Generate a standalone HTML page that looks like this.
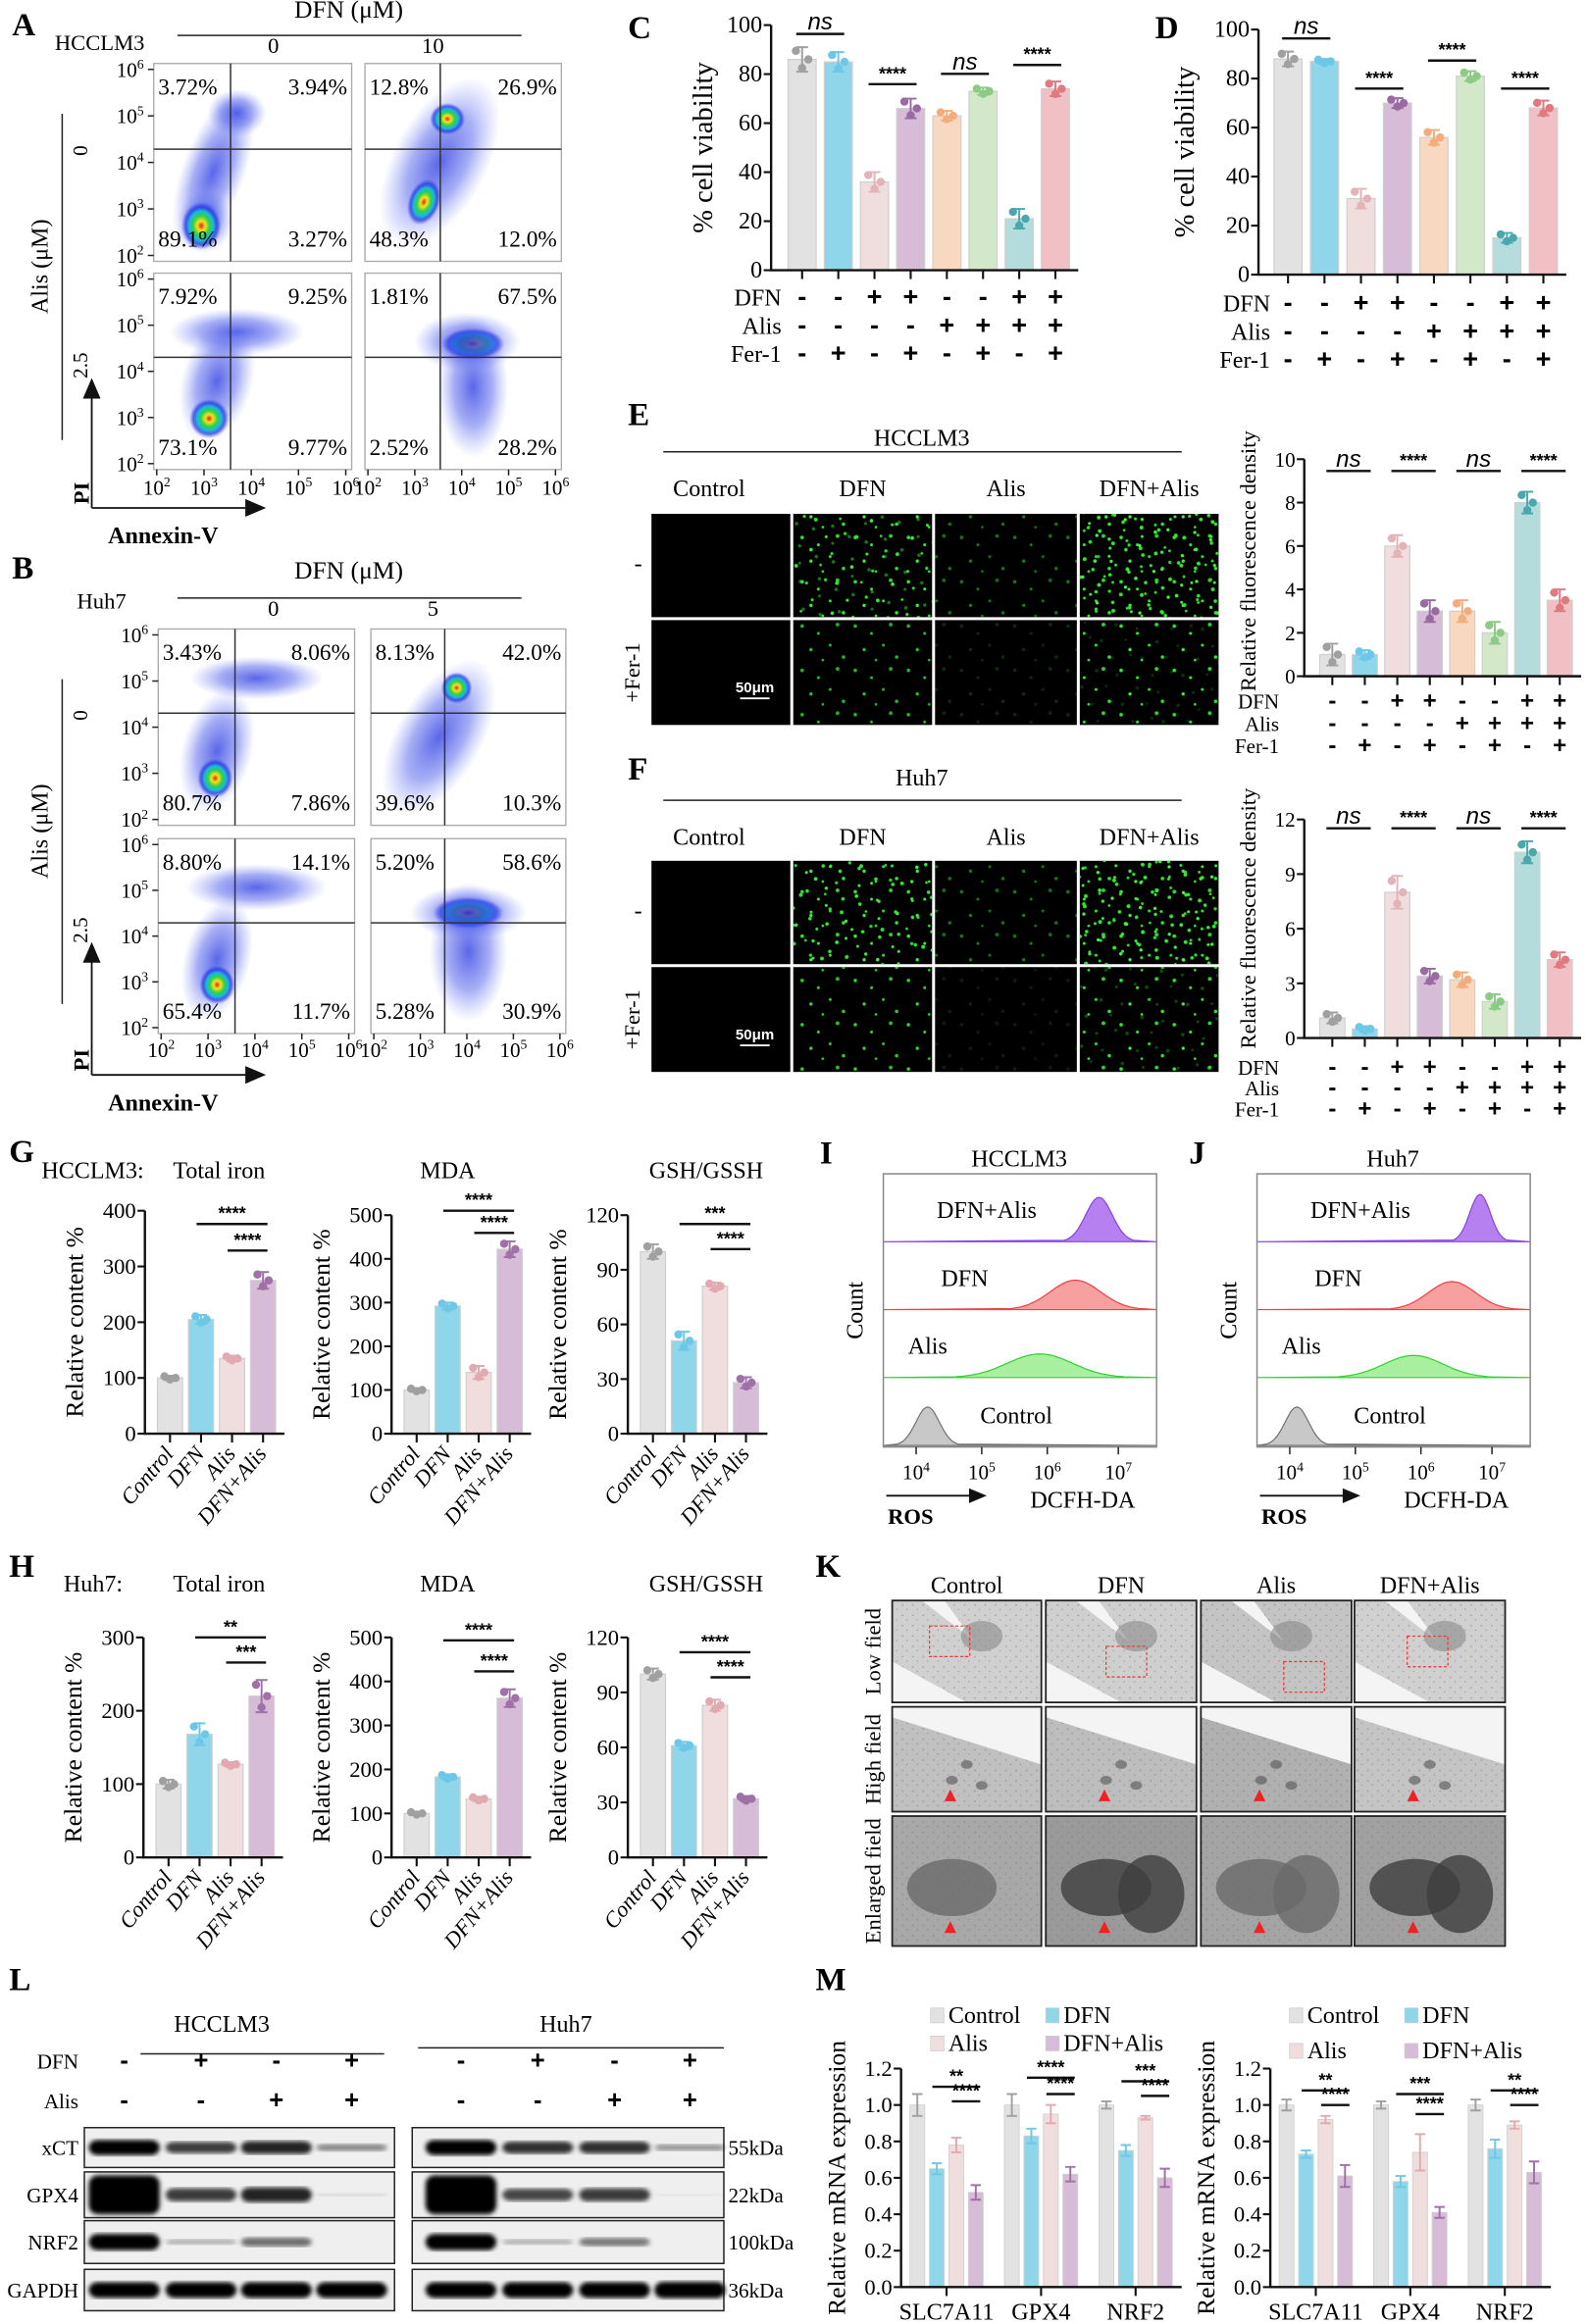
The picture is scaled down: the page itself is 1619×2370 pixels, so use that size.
<!DOCTYPE html>
<html><head><meta charset="utf-8"><title>Figure</title>
<style>
html,body{margin:0;padding:0;background:#fff;}
svg{display:block;font-family:"Liberation Serif",serif;}
</style></head>
<body>
<svg id="fig" xmlns="http://www.w3.org/2000/svg" width="1619" height="2370" viewBox="0 0 1075 1574">
<defs>
<radialGradient id="hot"><stop offset="0" stop-color="#e8201a"/><stop offset="0.2" stop-color="#f7e21a"/><stop offset="0.42" stop-color="#2fd14a"/><stop offset="0.62" stop-color="#1ab8e0"/><stop offset="0.8" stop-color="#1f2de0" stop-opacity="0.7"/><stop offset="1" stop-color="#2a3cf0" stop-opacity="0"/></radialGradient>
<radialGradient id="haze"><stop offset="0" stop-color="#2233e0" stop-opacity="0.75"/><stop offset="0.55" stop-color="#3a4ce8" stop-opacity="0.45"/><stop offset="1" stop-color="#6a7af5" stop-opacity="0"/></radialGradient>
<pattern id="gp0" width="36" height="30" patternUnits="userSpaceOnUse"><circle cx="3" cy="4" r="1.2" fill="#2ee82e"/><circle cx="14" cy="9" r="1" fill="#36f036"/><circle cx="27" cy="3" r="1.3" fill="#2bd82b"/><circle cx="9" cy="20" r="1.1" fill="#3ef03e"/><circle cx="22" cy="17" r="1" fill="#2ee82e"/><circle cx="31" cy="25" r="1.2" fill="#33e033"/><circle cx="17" cy="27" r="0.9" fill="#2ee82e"/></pattern>
<pattern id="gp1" width="30" height="34" patternUnits="userSpaceOnUse" patternTransform="translate(11,7) rotate(23)"><circle cx="3" cy="4" r="1.3" fill="#2ee82e"/><circle cx="14" cy="12" r="1" fill="#36f036"/><circle cx="25" cy="5" r="1.1" fill="#2bd82b"/><circle cx="8" cy="24" r="1.2" fill="#3ef03e"/><circle cx="22" cy="21" r="1" fill="#2ee82e"/><circle cx="18" cy="31" r="0.9" fill="#2ee82e"/></pattern>
<pattern id="gp2" width="26" height="26" patternUnits="userSpaceOnUse" patternTransform="translate(5,13) rotate(-31)"><circle cx="4" cy="5" r="1.2" fill="#2ee82e"/><circle cx="16" cy="10" r="1.1" fill="#36f036"/><circle cx="10" cy="20" r="1" fill="#3ef03e"/><circle cx="22" cy="22" r="1.2" fill="#2ee82e"/></pattern>
<pattern id="gp3" width="20" height="22" patternUnits="userSpaceOnUse" patternTransform="translate(3,2) rotate(61)"><circle cx="4" cy="5" r="1.3" fill="#2ee82e"/><circle cx="14" cy="12" r="1.1" fill="#46f846"/><circle cx="7" cy="18" r="1" fill="#2bd82b"/></pattern>
<pattern id="tex" width="7" height="7" patternUnits="userSpaceOnUse"><circle cx="2" cy="2" r="0.6" fill="#777" opacity="0.5"/><circle cx="5" cy="5" r="0.5" fill="#555" opacity="0.4"/></pattern>
<filter id="blur1"><feGaussianBlur stdDeviation="1.6"/></filter>
</defs>
</svg>
<script>
// ---------------- DATA ----------------
const viabC = [86, 85, 36, 66, 63, 73, 21, 74];
const viabCErr = [5, 4, 4, 4, 2, 1.5, 4, 3];
const viabD = [88, 87, 31, 70, 56, 81, 15, 68];
const viabDErr = [3, 1, 4, 2, 3, 2, 2, 3];
const fluoE = [1, 1, 6, 3, 3, 2, 8, 3.5];
const fluoEErr = [0.5, 0.2, 0.5, 0.5, 0.5, 0.5, 0.5, 0.5];
const fluoF = [1.1, 0.5, 8, 3.4, 3.2, 2, 10.2, 4.3];
const fluoFErr = [0.3, 0.15, 0.9, 0.4, 0.4, 0.4, 0.6, 0.4];
const tick100 = [0,20,40,60,80,100];
const tickE = [0,2,4,6,8,10];
const tickF = [0,3,6,9,12];
const rowDFN  = ["-","-","+","+","-","-","+","+"];
const rowAlis = ["-","-","-","-","+","+","+","+"];
const rowFer  = ["-","+","-","+","-","+","-","+"];
const groups4 = ["Control","DFN","Alis","DFN+Alis"];
const ironG = [100, 205, 135, 275];  const ironGErr=[4,8,5,15];
const mdaG  = [100, 292, 140, 422];  const mdaGErr=[4,8,15,18];
const gshG  = [100, 51, 81, 28];     const gshGErr=[4,5,2,3];
const ironH = [100, 168, 127, 220];  const ironHErr=[6,15,3,22];
const mdaH  = [100, 183, 133, 362];  const mdaHErr=[4,6,5,20];
const gshH  = [100, 61, 83, 32];     const gshHErr=[3,2,3,1.5];
const ticksIron4 = [0,100,200,300,400];
const ticksIron3 = [0,100,200,300];
const ticksMDA = [0,100,200,300,400,500];
const ticksGSH = [0,30,60,90,120];
const genes = ["SLC7A11","GPX4","NRF2"];
const m1Control=[1.0,1.0,1.0], m1DFN=[0.65,0.83,0.75], m1Alis=[0.78,0.95,0.93], m1Both=[0.52,0.62,0.60];
const m1Err=[[0.06,0.03,0.04,0.04],[0.06,0.04,0.05,0.04],[0.02,0.03,0.01,0.05]];
const m2Control=[1.0,1.0,1.0], m2DFN=[0.73,0.58,0.76], m2Alis=[0.92,0.74,0.89], m2Both=[0.61,0.41,0.63];
const m2Err=[[0.03,0.02,0.02,0.06],[0.02,0.03,0.1,0.03],[0.03,0.05,0.02,0.06]];
const ticksM = [0,0.2,0.4,0.6,0.8,1.0,1.2];
const blotL = {xCT:[1.0,0.75,0.85,0.45], GPX4:[1.3,0.75,0.85,0.15], NRF2:[1.0,0.3,0.55,0.02], GAPDH:[1,1,1,1]};
const blotR = {xCT:[1.0,0.8,0.8,0.4], GPX4:[1.3,0.7,0.75,0.1], NRF2:[1.0,0.3,0.5,0.02], GAPDH:[1,1,1,1.05]};
const kda = ["55kDa","22kDa","100kDa","36kDa"];

// ---------------- helpers ----------------
const NS='http://www.w3.org/2000/svg';
const svg=document.getElementById('fig');
function mk(tag,attrs,parent){const e=document.createElementNS(NS,tag);for(const k in attrs)e.setAttribute(k,attrs[k]);(parent||svg).appendChild(e);return e;}
function txt(x,y,s,size,opts,parent){const t=mk('text',Object.assign({x:x,y:y,'font-size':size},opts||{}),parent);t.textContent=s;return t;}
function label(x,y,s,size,name,opts,parent){const t=txt(x,y,s,size,opts,parent);


return t;}
function sup(x,y,base,exp,size,parent,anchor){const t=mk('text',{x:x,y:y,'font-size':size,'text-anchor':anchor||'middle'},parent);


const a=mk('tspan',{},t);a.textContent=base;const b=mk('tspan',{dy:-size*0.4,'font-size':size*0.65},t);b.textContent=exp;return t;}

const BAR8 = ["#e2e2e2","#8fd6ea","#f0dede","#d6bcd6","#f8d8c0","#d3e8c8","#b5dcdc","#f0c0c4"];
const DOT8 = ["#a0a0a0","#6cc8e6","#e2b4b8","#9a6aa2","#f3ad7c","#8cca86","#4aa8ac","#e07a80"];
const BAR4 = ["#e2e2e2","#8fd6ea","#f0dede","#d6bcd6"];
const DOT4 = ["#a0a0a0","#6cc8e6","#e2aab0","#a070a8"];

[["A",8,24],["B",8,392],["C",425,26],["D",782,26],["E",425,288],["F",425,528],["G",6,787],["H",6,1068],["I",555,788],["J",805,788],["K",552,1068],["L",6,1348],["M",552,1348]].forEach(p=>{
 label(p[1],p[2],p[0],22,'panel-label-'+p[0].toLowerCase(),{'font-weight':'bold'});
});

function barChart(name,ax,vals,errs,ticks,bars,dots,tickFmt){
 const g=mk('g',{});
 
 
 const y=v=>ax.yBot-(v/ax.max)*(ax.yBot-ax.yTop);
 const cx=i=>ax.x0+ax.first+i*ax.step;
 const xEnd=cx(vals.length-1)+ax.bw/2+6;
 for(let i=0;i<vals.length;i++){
  const v=vals[i],e=errs[i],c=cx(i);
  const r=mk('rect',{x:c-ax.bw/2,y:y(v),width:ax.bw,height:ax.yBot-y(v),fill:bars[i%bars.length],stroke:'#cfcfcf','stroke-width':0.8},g);
  
  
  const eb=mk('path',{d:`M${c},${y(v)} V${y(v+e)} M${c-4},${y(v+e)} H${c+4} M${c},${y(v)} V${y(v-e)} M${c-4},${y(v-e)} H${c+4}`,stroke:dots[i%dots.length],'stroke-width':1.3,fill:'none'},g);
  
  
  [[-4,v+e*0.7],[4,v],[0,v-e*0.7]].forEach(d=>{
   const dot=mk('circle',{cx:c+d[0]*ax.bw/18,cy:y(d[1]),r:2.8,fill:dots[i%dots.length]},g);
   
   
  });
 }
 const axl=mk('path',{d:`M${ax.x0},${ax.yTop} V${ax.yBot} H${xEnd}`,stroke:'#111','stroke-width':1.6,fill:'none'},g);
 
 
 ticks.forEach(t=>{
  mk('line',{x1:ax.x0-5,x2:ax.x0,y1:y(t),y2:y(t),stroke:'#111','stroke-width':1.4},g);
  label(ax.x0-6,y(t)+5,tickFmt?tickFmt(t):String(t),ax.fs||15,'y-tick-label',{'text-anchor':'end'},g);
 });
 for(let i=0;i<vals.length;i++) mk('line',{x1:cx(i),x2:cx(i),y1:ax.yBot,y2:ax.yBot+6,stroke:'#111','stroke-width':1.4},g);
 return {g,y,cx};
}
function sig(g,x1,x2,yy,s,italic){
 const l=mk('line',{x1:x1,x2:x2,y1:yy,y2:yy,stroke:'#111','stroke-width':1.6},g);
 
 
 label((x1+x2)/2,yy-3,s,italic?16:12,'significance-label',{'text-anchor':'middle','font-family':'"Liberation Sans",sans-serif','font-style':italic?'italic':'normal','font-weight':italic?'normal':'bold'},g);
}
function treatRows(g,cx,x0,ys,fs){
 const rows=[["DFN",rowDFN],["Alis",rowAlis],["Fer-1",rowFer]];
 rows.forEach((r,k)=>{
  label(x0,ys[k]+5,r[0],fs,'row-label-'+r[0].toLowerCase(),{'text-anchor':'end'},g);
  r[1].forEach((s,i)=>label(cx(i),ys[k]+5,s,fs+2,'treatment-sign',{'text-anchor':'middle','font-weight':'bold','font-family':'"Liberation Sans",sans-serif'},g));
 });
}

{
 const c=barChart('chart-c-viability',{x0:522,yTop:17,yBot:183,max:100,first:21,step:24.5,bw:19,fs:16},viabC,viabCErr,tick100,BAR8,DOT8);
 label(0,0,'% cell viability',19,'y-axis-title',{transform:'translate(482,100) rotate(-90)','text-anchor':'middle'});
 sig(c.g,c.cx(0)-4,c.cx(1)+4,23,'ns',true);sig(c.g,c.cx(2)-4,c.cx(3)+4,57,'****');sig(c.g,c.cx(4)-4,c.cx(5)+4,50,'ns',true);sig(c.g,c.cx(6)-4,c.cx(7)+4,44,'****');
 treatRows(c.g,c.cx,529,[202,221,240],16);
}
{
 const c=barChart('chart-d-viability',{x0:852,yTop:20,yBot:186,max:100,first:20,step:24.7,bw:19,fs:16},viabD,viabDErr,tick100,BAR8,DOT8);
 label(0,0,'% cell viability',19,'y-axis-title',{transform:'translate(808,103) rotate(-90)','text-anchor':'middle'});
 sig(c.g,c.cx(0)-4,c.cx(1)+4,26,'ns',true);sig(c.g,c.cx(2)-4,c.cx(3)+4,60,'****');sig(c.g,c.cx(4)-4,c.cx(5)+4,41,'****');sig(c.g,c.cx(6)-4,c.cx(7)+4,60,'****');
 treatRows(c.g,c.cx,860,[206,225,244],16);
}
{
 const c=barChart('chart-e-fluorescence',{x0:883,yTop:311,yBot:458,max:10,first:19,step:22,bw:17,fs:14},fluoE,fluoEErr,tickE,BAR8,DOT8);
 label(0,0,'Relative fluorescence density',15,'y-axis-title',{transform:'translate(850,380) rotate(-90)','text-anchor':'middle'});
 sig(c.g,c.cx(0)-4,c.cx(1)+4,319,'ns',true);sig(c.g,c.cx(2)-4,c.cx(3)+4,319,'****');sig(c.g,c.cx(4)-4,c.cx(5)+4,319,'ns',true);sig(c.g,c.cx(6)-4,c.cx(7)+4,319,'****');
 treatRows(c.g,c.cx,866,[475,490,505],14);
}
{
 const c=barChart('chart-f-fluorescence',{x0:883,yTop:555,yBot:703,max:12,first:19,step:22,bw:17,fs:14},fluoF,fluoFErr,tickF,BAR8,DOT8);
 label(0,0,'Relative fluorescence density',15,'y-axis-title',{transform:'translate(850,622) rotate(-90)','text-anchor':'middle'});
 sig(c.g,c.cx(0)-4,c.cx(1)+4,561,'ns',true);sig(c.g,c.cx(2)-4,c.cx(3)+4,561,'****');sig(c.g,c.cx(4)-4,c.cx(5)+4,561,'ns',true);sig(c.g,c.cx(6)-4,c.cx(7)+4,561,'****');
 treatRows(c.g,c.cx,866,[723,737,751],14);
}
function smallChart(name,x0,yTop,yBot,max,vals,errs,ticks,sigs){
 const c=barChart(name,{x0:x0,yTop:yTop,yBot:yBot,max:max,first:17,step:21,bw:17,fs:15},vals,errs,ticks,BAR4,DOT4);
 label(0,0,'Relative content %',17,'y-axis-title',{transform:`translate(${x0-42},${(yTop+yBot)/2}) rotate(-90)`,'text-anchor':'middle'});
 groups4.forEach((gname,i)=>label(0,0,gname,15,'x-tick-label',{transform:`translate(${c.cx(i)+3},${yBot+14}) rotate(-50)`,'text-anchor':'end','font-style':'italic'},c.g));
 sigs.forEach(s=>sig(c.g,c.cx(s[0])-3,c.cx(s[1])+3,s[2],s[3]));
 return c;
}
label(28,798,'HCCLM3:',16,'cell-line-label');label(117,798,'Total iron',16,'chart-title');
label(303,798,'MDA',16,'chart-title',{'text-anchor':'middle'});
label(478,798,'GSH/GSSH',16,'chart-title',{'text-anchor':'middle'});
smallChart('chart-g-iron',98,820,971,400,ironG,ironGErr,ticksIron4,[[1,3,829,'****'],[2,3,847,'****']]);
smallChart('chart-g-mda',265,823,971,500,mdaG,mdaGErr,ticksMDA,[[1,3,820,'****'],[2,3,835,'****']]);
smallChart('chart-g-gsh',425,823,971,120,gshG,gshGErr,ticksGSH,[[1,3,829,'***'],[2,3,846,'****']]);
label(43,1078,'Huh7:',16,'cell-line-label');label(117,1078,'Total iron',16,'chart-title');
label(303,1078,'MDA',16,'chart-title',{'text-anchor':'middle'});
label(478,1078,'GSH/GSSH',16,'chart-title',{'text-anchor':'middle'});
smallChart('chart-h-iron',97,1109,1258,300,ironH,ironHErr,ticksIron3,[[1,3,1109,'**'],[2,3,1126,'***']]);
smallChart('chart-h-mda',265,1109,1258,500,mdaH,mdaHErr,ticksMDA,[[1,3,1111,'****'],[2,3,1132,'****']]);
smallChart('chart-h-gsh',425,1109,1258,120,gshH,gshHErr,ticksGSH,[[1,3,1119,'****'],[2,3,1136,'****']]);

function mChart(name,x0,C,Dv,A,B,errs,legX,legY2,sigs){
 const g=mk('g',{});
 
 
 const yTop=1401,yBot=1549,max=1.2;
 const y=v=>yBot-(v/max)*(yBot-yTop);
 const series=[C,Dv,A,B];
 genes.forEach((gn,gi)=>{
  series.forEach((s,si)=>{
   const cx=x0+11+gi*64+si*13.2, v=s[gi], e=errs[gi][si];
   const r=mk('rect',{x:cx-5,y:y(v),width:10,height:yBot-y(v),fill:BAR4[si],stroke:'#d0d0d0','stroke-width':0.6},g);
   
   
   const eb=mk('path',{d:`M${cx},${y(v-e)} V${y(v+e)} M${cx-3.5},${y(v+e)} H${cx+3.5} M${cx-3.5},${y(v-e)} H${cx+3.5}`,stroke:DOT4[si],'stroke-width':1.3,fill:'none'},g);
   
   
  });
  const gc=x0+11+gi*64+19.8;
  mk('line',{x1:gc,x2:gc,y1:yBot,y2:yBot+6,stroke:'#111','stroke-width':1.4},g);
  label(gc,yBot+22,gn,16,'x-tick-label',{'text-anchor':'middle'},g);
  sigs[gi].forEach(s=>{const a=x0+11+gi*64+s[0]*13.2,b=x0+11+gi*64+s[1]*13.2;sig(g,a-3,b+3,y(s[2]),s[3]);});
 });
 const axl=mk('path',{d:`M${x0},${yTop} V${yBot} H${x0+190}`,stroke:'#111','stroke-width':1.6,fill:'none'},g);
 
 
 ticksM.forEach(t=>{mk('line',{x1:x0-5,x2:x0,y1:y(t),y2:y(t),stroke:'#111','stroke-width':1.4},g);label(x0-6,y(t)+5,t.toFixed(1),15,'y-tick-label',{'text-anchor':'end'},g);});
 label(0,0,'Relative mRNA expression',17,'y-axis-title',{transform:`translate(${x0-38},${(yTop+yBot)/2}) rotate(-90)`,'text-anchor':'middle'});
 [[0,0,'Control'],[1,0,'DFN'],[0,1,'Alis'],[1,1,'DFN+Alis']].forEach(l=>{
  const lx=legX+l[0]*78, ly=l[1]?legY2:1365;
  const s=mk('rect',{x:lx,y:ly-5,width:9,height:10,fill:BAR4[l[0]+l[1]*2],stroke:'#ccc','stroke-width':0.5},g);
  
  
  label(lx+12,ly+5,l[2],16,'legend-entry',{},g);
 });
}
mChart('chart-m-hcclm3',610,m1Control,m1DFN,m1Alis,m1Both,m1Err,630,1384,[[[1,3,1.1,'**'],[2,3,1.02,'****']],[[1,3,1.15,'****'],[2,3,1.06,'****']],[[1,3,1.13,'***'],[2,3,1.05,'****']]]);
mChart('chart-m-huh7',860,m2Control,m2DFN,m2Alis,m2Both,m2Err,873,1389,[[[1,3,1.08,'**'],[2,3,1.0,'****']],[[1,3,1.06,'***'],[2,3,0.95,'****']],[[1,3,1.08,'**'],[2,3,1.0,'****']]]);

function flowBlock(pref,x0s,ys,qx,qy,pcts,blobs,titleY,lineY,colLbl,cellName,cellX,cellY,tickY,annY){
 label(236,titleY,'DFN (μM)',17,pref+'-dfn-title',{'text-anchor':'middle'});
 mk('line',{x1:120,x2:353,y1:lineY,y2:lineY,stroke:'#222','stroke-width':1});
 label(185,lineY+12,colLbl[0],15,'column-label',{'text-anchor':'middle'});
 label(293,lineY+12,colLbl[1],15,'column-label',{'text-anchor':'middle'});
 label(cellX,cellY,cellName,15,'cell-line-label');
 label(0,0,'Alis (μM)',16,'row-axis-title',{transform:`translate(32,${(ys[0][0]+ys[1][1])/2}) rotate(-90)`,'text-anchor':'middle'});
 mk('line',{x1:42,x2:42,y1:ys[0][0]+34,y2:ys[1][1]-20,stroke:'#222','stroke-width':1});
 label(0,0,'0',14,'row-label',{transform:`translate(59,${(ys[0][0]+ys[0][1])/2-8}) rotate(-90)`,'text-anchor':'middle'});
 label(0,0,'2.5',14,'row-label',{transform:`translate(59,${(ys[1][0]+ys[1][1])/2-4}) rotate(-90)`,'text-anchor':'middle'});
 let k=0;
 for(let r=0;r<2;r++)for(let c=0;c<2;c++){
  const x=x0s[c][0],w=x0s[c][1]-x0s[c][0],y=ys[r][0],h=ys[r][1]-ys[r][0];
  const g=mk('g',{});
  
  
  const cp=mk('clipPath',{id:pref+'clip'+k},g);mk('rect',{x:x,y:y,width:w,height:h},cp);
  const gg=mk('g',{'clip-path':`url(#${pref}clip${k})`},g);
  blobs[k].forEach(b=>{
   const e=mk('ellipse',{cx:x+b[0]*w,cy:y+b[1]*h,rx:b[2]*w,ry:b[3]*h,fill:b[5]==='h'?'url(#hot)':'url(#haze)',transform:`rotate(${b[4]},${x+b[0]*w},${y+b[1]*h})`},gg);
   
   
  });
  mk('rect',{x:x,y:y,width:w,height:h,fill:'none',stroke:'#aaa','stroke-width':0.9},g);
  mk('line',{x1:qx[c],x2:qx[c],y1:y,y2:y+h,stroke:'#333','stroke-width':1},g);
  mk('line',{x1:x,x2:x+w,y1:qy[r],y2:qy[r],stroke:'#333','stroke-width':1},g);
  const p=pcts[k];
  label(x+3,y+21,p[0],15.5,'quadrant-percent',{},g);
  label(x+w-3,y+21,p[1],15.5,'quadrant-percent',{'text-anchor':'end'},g);
  label(x+3,y+h-10,p[2],15.5,'quadrant-percent',{},g);
  label(x+w-3,y+h-10,p[3],15.5,'quadrant-percent',{'text-anchor':'end'},g);
  if(c===0){[6,5,4,3,2].forEach((e,i)=>{const ty=y+4+i*(h-8)/4;mk('line',{x1:x-4,x2:x,y1:ty,y2:ty,stroke:'#222'});sup(x-16,ty+5,'10',String(e),14,svg,'middle');});}
  if(r===1){[2,3,4,5,6].forEach((e,i)=>{const tx=x+2+i*(w-6)/4;mk('line',{x1:tx,x2:tx,y1:y+h,y2:y+h+4,stroke:'#222'});sup(tx,tickY,'10',String(e),14,svg,'middle');});}
  k++;
 }
 const ax=mk('path',{d:`M62,${annY-20} V${ys[1][1]-50} M62,${annY-20} H168`,stroke:'#111','stroke-width':1.2,fill:'none'});
 
 
 mk('path',{d:`M56,${ys[1][1]-48} L62,${ys[1][1]-62} L68,${ys[1][1]-48}Z M166,${annY-26} L180,${annY-20} L166,${annY-14}Z`,fill:'#111'});
 label(0,0,'PI',15,'y-axis-title',{transform:`translate(60,${annY-30}) rotate(-90)`,'font-weight':'bold','text-anchor':'middle'});
 label(73,annY+4,'Annexin-V',16,'x-axis-title',{'font-weight':'bold'});
}
flowBlock('a',[[104,238],[247,380]],[[43,177],[185,318]],[156,298],[101,242],
 [["3.72%","3.94%","89.1%","3.27%"],["12.8%","26.9%","48.3%","12.0%"],["7.92%","9.25%","73.1%","9.77%"],["1.81%","67.5%","2.52%","28.2%"]],
 [[[0.3,0.55,0.16,0.42,20,'z'],[0.42,0.25,0.15,0.12,0,'z'],[0.26,0.8,0.14,0.16,15,'z'],[0.24,0.82,0.1,0.12,0,'h']],
  [[0.38,0.5,0.24,0.47,28,'z'],[0.42,0.28,0.09,0.08,0,'h'],[0.3,0.7,0.08,0.12,20,'h']],
  [[0.42,0.3,0.34,0.12,0,'z'],[0.32,0.55,0.18,0.32,15,'z'],[0.28,0.74,0.1,0.1,0,'h']],
  [[0.55,0.36,0.16,0.08,0,'h'],[0.55,0.58,0.18,0.36,0,'z'],[0.52,0.35,0.27,0.15,0,'z']]],
 12,24,['0','10'],'HCCLM3',37,34,335,364);
flowBlock('b',[[107,240],[251,383]],[[426,559],[568,700]],[159,301],[483,625],
 [["3.43%","8.06%","80.7%","7.86%"],["8.13%","42.0%","39.6%","10.3%"],["8.80%","14.1%","65.4%","11.7%"],["5.20%","58.6%","5.28%","30.9%"]],
 [[[0.5,0.25,0.34,0.11,0,'z'],[0.3,0.62,0.18,0.32,15,'z'],[0.29,0.76,0.09,0.1,0,'h']],
  [[0.35,0.55,0.22,0.44,30,'z'],[0.44,0.3,0.08,0.08,0,'h']],
  [[0.5,0.25,0.36,0.12,0,'z'],[0.3,0.62,0.17,0.32,15,'z'],[0.3,0.75,0.09,0.1,0,'h']],
  [[0.5,0.38,0.18,0.08,0,'h'],[0.5,0.58,0.2,0.36,0,'z'],[0.5,0.38,0.3,0.14,0,'z']]],
 392,405,['0','5'],'Huh7',52,412,716,748);

function fluoBlock(pref,cell,titleY,lineY,lblY,rows,dens){
 label(624,titleY,cell,16,pref+'-cell-line',{'text-anchor':'middle'});
 mk('line',{x1:449,x2:800,y1:lineY,y2:lineY,stroke:'#222','stroke-width':1});
 const cols=[[441,535],[537,631],[633,729],[731,825]];
 ['Control','DFN','Alis','DFN+Alis'].forEach((n,i)=>label((cols[i][0]+cols[i][1])/2+(i===0?-8:0),lblY,n,16,'column-label',{'text-anchor':'middle'}));
 rows.forEach((r,ri)=>{
  cols.forEach((c,ci)=>{
   const im=mk('rect',{x:c[0],y:r[0],width:c[1]-c[0],height:r[1]-r[0],fill:'#000'});
   
   
   const n=dens[ri][ci];
   for(let j=0;j<Math.ceil(n);j++) mk('rect',{x:c[0],y:r[0],width:c[1]-c[0],height:r[1]-r[0],fill:'url(#gp'+j+')',opacity:Math.min(1,n-j)});
  });
 });
 label(432,(rows[0][0]+rows[0][1])/2+4,'-',16,'row-label',{'text-anchor':'middle'});
 label(0,0,'+Fer-1',15,'row-label',{transform:`translate(433,${(rows[1][0]+rows[1][1])/2}) rotate(-90)`,'text-anchor':'middle'});
 label(511,rows[1][1]-22,'50μm',10,'scale-bar-label',{'text-anchor':'middle','fill':'#fff','font-family':'"Liberation Sans",sans-serif','font-weight':'bold'});
 mk('line',{x1:501,x2:521,y1:rows[1][1]-18,y2:rows[1][1]-18,stroke:'#fff','stroke-width':1.2});
}
fluoBlock('e','HCCLM3',302,306,336,[[348,418],[420,491]],[[0,2.5,0.5,4],[0,0.8,0.2,1.2]]);
fluoBlock('f','Huh7',532,542,572,[[583,653],[655,726]],[[0,3,0.5,4],[0,0.9,0.15,1.3]]);

function histBlock(pref,bx,title,peaks){
 label(bx+92,790,title,16,pref+'-title',{'text-anchor':'middle'});
 const g=mk('g',{});
 
 
 const w=185,top=795,bot=980;
 const base=[841,887,933,979];
 const cols=[['#b680f0','#8a40e0'],['#f7a0a0','#f04040'],['#a8f0a0','#30d030'],['#c8c8c8','#707070']];
 const names=['DFN+Alis','DFN','Alis','Control'];
 const lx=[bx+70,bx+55,bx+30,bx+90];
 peaks.forEach((p,i)=>{
  let d=`M${bx},${base[i]}`;
  for(let s=0;s<=60;s++){const x=p[0]-p[1]*2.6+s*p[1]*5.2/60;const z=(x-p[0])/p[1];d+=` L${x.toFixed(1)},${(base[i]-p[2]*Math.exp(-z*z/2)).toFixed(1)}`;}
  d+=` L${bx+w},${base[i]} Z`;
  const h=mk('path',{d:d,fill:cols[i][0],stroke:cols[i][1],'stroke-width':0.8},g);
  
  
  label(lx[i],base[i]-(i===3?15:16),names[i],16,'histogram-label',{'text-anchor':'middle'},g);
 });
 mk('rect',{x:bx,y:top,width:w,height:bot-top,fill:'none',stroke:'#888','stroke-width':1},g);
 [[0.12,4],[0.36,5],[0.6,6],[0.86,7]].forEach(t=>{const tx=bx+t[0]*w;mk('line',{x1:tx,x2:tx,y1:bot,y2:bot+5,stroke:'#222'},g);sup(tx,bot+22,'10',String(t[1]),14,g,'middle');});
 label(0,0,'Count',16,'y-axis-title',{transform:`translate(${bx-14},${(top+bot)/2}) rotate(-90)`,'text-anchor':'middle'},g);
 mk('line',{x1:bx+2,x2:bx+60,y1:1013,y2:1013,stroke:'#111','stroke-width':1.2},g);
 mk('path',{d:`M${bx+58},1008 L${bx+70},1013 L${bx+58},1018Z`,fill:'#111'},g);
 label(bx+3,1032,'ROS',15,'x-axis-title',{'font-weight':'bold'},g);
 label(bx+135,1021,'DCFH-DA',16,'x-axis-label',{'text-anchor':'middle'},g);
}
histBlock('i',598,'HCCLM3',[[744,9,30],[728,17,20],[704,22,16],[628,8,26]]);
histBlock('j',851,'Huh7',[[1002,7,32],[983,16,19],[957,20,15],[878,8,26]]);

{
 const cols=[[604,705],[708,810],[813,915],[917,1019]];
 const rows=[[1084,1153],[1156,1227],[1230,1318]];
 ['Control','DFN','Alis','DFN+Alis'].forEach((n,i)=>label((cols[i][0]+cols[i][1])/2,1079,n,16,'column-label',{'text-anchor':'middle'}));
 ['Low field','High field','Enlarged field'].forEach((n,i)=>label(0,0,n,15,'row-label',{transform:`translate(596,${(rows[i][0]+rows[i][1])/2}) rotate(-90)`,'text-anchor':'middle'}));
 const fills=[['#d0d0d0','#cfcfcf','#c4c4c4','#d0d0d0'],['#c0c0c0','#bdbdbd','#b0b0b0','#c4c4c4'],['#a8a8a8','#9a9a9a','#a4a4a4','#a0a0a0']];
 rows.forEach((r,ri)=>cols.forEach((c,ci)=>{
  const w=c[1]-c[0],h=r[1]-r[0];
  const im=mk('rect',{x:c[0],y:r[0],width:w,height:h,fill:fills[ri][ci]});
  
  
  mk('rect',{x:c[0],y:r[0],width:w,height:h,fill:'url(#tex)'});
  if(ri===0){mk('path',{d:`M${c[0]+w*0.2},${r[0]} L${c[0]+w*0.55},${r[0]+h*0.4} L${c[0]+w*0.35},${r[0]} Z M${c[0]},${r[0]+h*0.6} L${c[0]+w*0.5},${r[0]+h} L${c[0]},${r[0]+h}Z`,fill:'#f4f4f4'});
   mk('ellipse',{cx:c[0]+w*0.6,cy:r[0]+h*0.35,rx:w*0.14,ry:h*0.15,fill:'#8a8a8a',opacity:0.6});
   const bx=[[0.25,0.25],[0.4,0.45],[0.55,0.6],[0.35,0.35]][ci];
   mk('rect',{x:c[0]+w*bx[0],y:r[0]+h*bx[1],width:w*0.27,height:h*0.3,fill:'none',stroke:'#e33','stroke-width':0.8,'stroke-dasharray':'2,1.5'});}
  if(ri===1){mk('path',{d:`M${c[0]},${r[0]+h*0.1} L${c[0]+w},${r[0]+h*0.55} L${c[0]+w},${r[0]} L${c[0]},${r[0]}Z`,fill:'#f4f4f4'});
   [[0.4,0.7],[0.6,0.75],[0.5,0.55]].forEach(m=>mk('ellipse',{cx:c[0]+w*m[0],cy:r[0]+h*m[1],rx:4,ry:3,fill:'#555',opacity:0.6}));}
  if(ri===2){[[0.4,0.55,0.3,0.22],[0.7,0.6,0.22,0.3]].forEach((m,mi)=>{if(ci>0||mi===0)mk('ellipse',{cx:c[0]+w*m[0],cy:r[0]+h*m[1],rx:w*m[2],ry:h*m[3],fill:ci===3||ci===1?'#3e3e3e':'#6a6a6a',opacity:0.8});});}
  if(ri>0){mk('path',{d:`M${c[0]+w*0.35},${r[0]+h*0.9} l4,-8 l4,8z`,fill:'#e22'});}
  mk('rect',{x:c[0],y:r[0],width:w,height:h,fill:'none',stroke:'#222','stroke-width':1.2});
 }));
}

{
 label(150,1376,'HCCLM3',16,'blot-cell-line',{'text-anchor':'middle'});
 label(383,1376,'Huh7',16,'blot-cell-line',{'text-anchor':'middle'});
 mk('line',{x1:95,x2:260,y1:1391,y2:1391,stroke:'#222'});
 mk('line',{x1:283,x2:490,y1:1387,y2:1387,stroke:'#222'});
 label(53,1401,'DFN',14,'row-label',{'text-anchor':'end'});
 label(53,1428,'Alis',14,'row-label',{'text-anchor':'end'});
 const lanesL=[84,136,187,238], lanesR=[312,364,416,467];
 const dfnS=['-','+','-','+'], alisS=['-','-','+','+'];
 [lanesL,lanesR].forEach(ln=>ln.forEach((x,i)=>{
  label(x,1401,dfnS[i],17,'treatment-sign',{'text-anchor':'middle','font-weight':'bold','font-family':'"Liberation Sans",sans-serif'});
  label(x,1428,alisS[i],17,'treatment-sign',{'text-anchor':'middle','font-weight':'bold','font-family':'"Liberation Sans",sans-serif'});
 }));
 const prot=['xCT','GPX4','NRF2','GAPDH'];
 const rowsY=[[1441,1468],[1471,1502],[1504,1533],[1537,1565]];
 prot.forEach((p,pi)=>{
  label(53,(rowsY[pi][0]+rowsY[pi][1])/2+5,p,14,'protein-label',{'text-anchor':'end'});
  label(493,(rowsY[pi][0]+rowsY[pi][1])/2+5,kda[pi],14,'molecular-weight-label');
  [[57,267,lanesL,blotL],[279,490,lanesR,blotR]].forEach(B=>{
   const h=rowsY[pi][1]-rowsY[pi][0];
   const box=mk('rect',{x:B[0],y:rowsY[pi][0],width:B[1]-B[0],height:h,fill:'#efefef',stroke:'#222','stroke-width':1});
   
   
   B[2].forEach((x,li)=>{
    const v=B[3][p][li];
    if(v<0.05)return;
    const bh=p==='GPX4'&&li===0?h*0.85:h*0.38*Math.min(v,1.1);
    const band=mk('rect',{x:x-24,y:rowsY[pi][0]+h/2-bh/2,width:48,height:bh,rx:6,fill:'#000',opacity:Math.min(1,v),filter:'url(#blur1)'});
    
    
   });
  });
 });
}
</script>
</body></html>
